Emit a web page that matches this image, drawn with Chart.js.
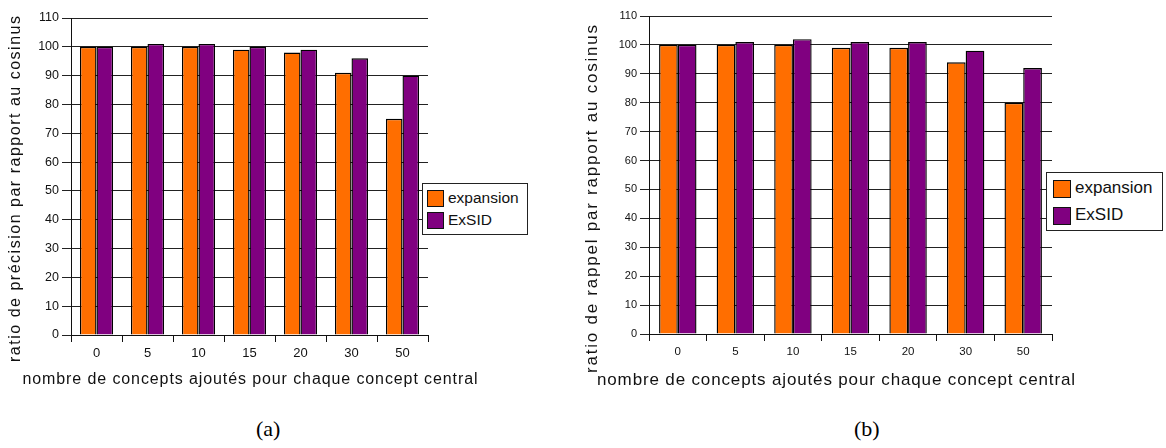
<!DOCTYPE html>
<html>
<head>
<meta charset="utf-8">
<script src="https://cdn.jsdelivr.net/npm/chart.js@4"></script>
<style>
  body { margin: 0; background: #fff; width: 1166px; height: 448px; position: relative; overflow: hidden; }
  .wrap { position: absolute; }
  .legend { position: absolute; border: 1px solid #222; background: #fff; font-family: "Liberation Sans", Arial, sans-serif; color: #111; }
  .legend .item { position: absolute; white-space: nowrap; }
  .legend .sw { position: absolute; border: 1px solid #111; box-sizing: border-box; }
  .caption { position: absolute; font-family: "Liberation Serif", "Times New Roman", serif; font-size: 22px; color: #000; }
</style>
</head>
<body>
<div class="wrap" style="left:0px;top:0px"><canvas id="chartA" width="500" height="400"></canvas></div>
<div class="wrap" style="left:578px;top:0px"><canvas id="chartB" width="588" height="400"></canvas></div>
<div class="legend" id="legendA" style="left:422px;top:183px;width:104px;height:50px"></div>
<div class="legend" id="legendB" style="left:1046px;top:172px;width:115px;height:57px"></div>
<div class="caption" style="left:256px;top:416px">(a)</div>
<div class="caption" style="left:854px;top:416px">(b)</div>
<script>
// categories = concepts added per central concept
const categories = ["0", "5", "10", "15", "20", "30", "50"];
const seriesNames = ["expansion", "ExSID"];
const seriesColors = ["#ff6e00", "#800080"];

// (a) precision ratio vs cosine
const precisionExpansion = [100, 100, 100, 99, 98, 91, 75];
const precisionExsid = [100, 101, 101, 100, 99, 96, 90];

// (b) recall ratio vs cosine
const rappelExpansion = [100, 100, 100, 99, 99, 94, 80];
const rappelExsid = [100, 101, 102, 101, 101, 98, 92];

const yMax = 110;
const yStep = 10;
const xTitle = "nombre de concepts ajoutés pour chaque concept central";

Chart.defaults.font.family = '"Liberation Sans", Arial, sans-serif';
Chart.defaults.color = "#111";

// the original uses a wide-set font, so spread the title over a given length
function drawSpaced(ctx, text, cx, cy, length, angle, size) {
    ctx.save();
    ctx.font = size + 'px "Liberation Sans", Arial, sans-serif';
    ctx.fillStyle = "#111";
    ctx.textAlign = "left";
    ctx.textBaseline = "middle";
    let chars = Array.from(text);
    let widths = chars.map(c => ctx.measureText(c).width);
    let natural = widths.reduce((a, b) => a + b, 0);
    let gap = (length - natural) / (chars.length - 1);
    ctx.translate(cx, cy);
    ctx.rotate(angle);
    let x = -length / 2;
    for (let i = 0; i < chars.length; i++) {
        ctx.fillText(chars[i], x, 0);
        x += widths[i] + gap;
    }
    ctx.restore();
}

const axisTitles = {
    id: "axisTitles",
    afterDraw(chart, args, opts) {
        let ctx = chart.ctx;
        drawSpaced(ctx, opts.x.text, opts.x.cx, opts.x.cy, opts.x.length, 0, opts.size);
        drawSpaced(ctx, opts.y.text, opts.y.cx, opts.y.cy, opts.y.length, -Math.PI / 2, opts.size);
    }
};

function makeChart(id, values, titles, cfg) {
    let datasets = [];
    for (let i = 0; i < values.length; i++) {
        datasets.push({
            label: seriesNames[i],
            data: values[i],
            backgroundColor: seriesColors[i],
            borderColor: "#000",
            borderWidth: 1.4,
            borderSkipped: "bottom",
            categoryPercentage: 0.65,
            barPercentage: 1.0
        });
    }
    return new Chart(document.getElementById(id), {
        type: "bar",
        data: { labels: categories, datasets: datasets },
        plugins: [axisTitles],
        options: {
            responsive: false,
            animation: false,
            layout: { padding: cfg.padding },
            plugins: { legend: { display: false }, tooltip: { enabled: false }, axisTitles: titles },
            scales: {
                x: {
                    grid: {
                        display: true,
                        drawOnChartArea: false,
                        offset: true,
                        // no tick mark at the right end of the axis
                        color: (c) => c.index === categories.length ? "rgba(0,0,0,0)" : "#111",
                        tickLength: 7
                    },
                    border: { color: "#111", width: 1 },
                    ticks: { font: { size: cfg.xTickSize }, padding: 4, maxRotation: 0 },
                    afterFit: (scale) => { scale.height = cfg.xHeight; }
                },
                y: {
                    min: 0,
                    max: yMax,
                    ticks: { stepSize: yStep, font: { size: cfg.yTickSize }, padding: 3 },
                    grid: { color: "#222", lineWidth: 1, tickLength: 9 },
                    border: { color: "#111", width: 1 },
                    afterFit: (scale) => { scale.width = 71; }
                }
            }
        }
    });
}

function renderLegend(chart, id, cfg) {
    let box = document.getElementById(id);
    let inside = "";
    chart.data.datasets.forEach((ds, i) => {
        let top = cfg.firstTop + i * cfg.step;
        inside += "<div class=\"sw\" style=\"left:" + cfg.swLeft + "px;top:" + top + "px;width:" + cfg.sw + "px;height:" + cfg.sw + "px;background:" + ds.backgroundColor + "\"></div>";
        inside += "<div class=\"item\" style=\"left:" + cfg.textLeft + "px;top:" + (top + cfg.textDy) + "px;font-size:" + cfg.fontSize + "px\">" + ds.label + "</div>";
    });
    box.innerHTML = inside;
}

const chartA = makeChart("chartA", [precisionExpansion, precisionExsid],
    { size: 16, x: { text: xTitle, cx: 250, cy: 380, length: 455 }, y: { text: "ratio de précision par rapport au cosinus", cx: 16, cy: 189, length: 346 } },
    { padding: { top: 18, right: 72, bottom: 10, left: 0 }, xHeight: 55, xTickSize: 13, yTickSize: 12.5 });
const chartB = makeChart("chartB", [rappelExpansion, rappelExsid],
    { size: 17, x: { text: xTitle, cx: 258, cy: 380, length: 478 }, y: { text: "ratio de rappel par rapport au cosinus", cx: 14, cy: 199, length: 348 } },
    { padding: { top: 16, right: 114, bottom: 10, left: 0 }, xHeight: 56, xTickSize: 11.5, yTickSize: 11 });

renderLegend(chartA, "legendA", { firstTop: 6, step: 22, swLeft: 4, sw: 17, textLeft: 25, textDy: -1, fontSize: 15.5 });
renderLegend(chartB, "legendB", { firstTop: 7, step: 27, swLeft: 6, sw: 18, textLeft: 28, textDy: -2, fontSize: 17 });
</script>
</body>
</html>
